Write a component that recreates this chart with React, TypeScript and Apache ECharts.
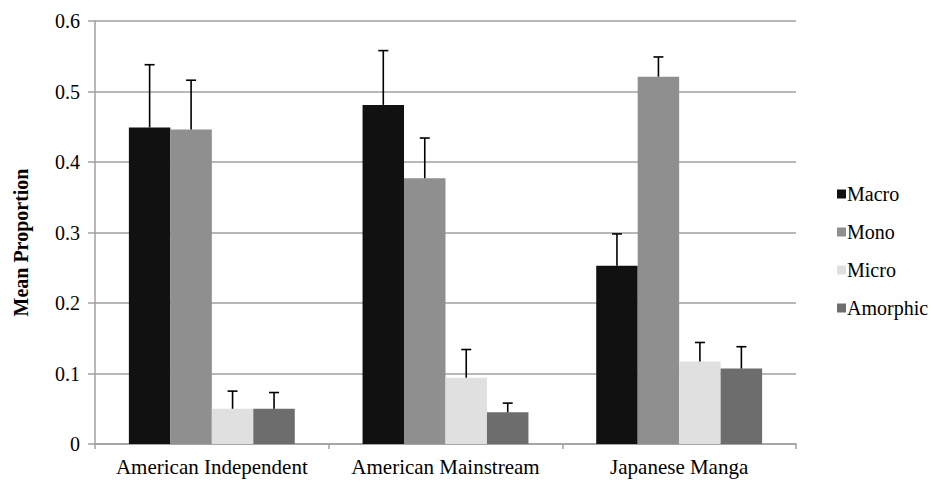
import React, { useEffect, useRef } from "react";
import * as echarts from "echarts";

const categories = ["American Independent", "American Mainstream", "Japanese Manga"];
const seriesNames = ["Macro", "Mono", "Micro", "Amorphic"];
const seriesColors = ["#111111", "#8f8f8f", "#e0e0e0", "#6d6d6d"];
const macroValues = [0.449, 0.481, 0.253];
const monoValues = [0.446, 0.377, 0.521];
const microValues = [0.05, 0.094, 0.117];
const amorphicValues = [0.05, 0.045, 0.107];
const macroErrTop = [0.538, 0.558, 0.298];
const monoErrTop = [0.516, 0.434, 0.549];
const microErrTop = [0.075, 0.134, 0.144];
const amorphicErrTop = [0.073, 0.058, 0.138];
const yTicks = [0, 0.1, 0.2, 0.3, 0.4, 0.5, 0.6];

const allValues = [macroValues, monoValues, microValues, amorphicValues];
const allErr = [macroErrTop, monoErrTop, microErrTop, amorphicErrTop];

const FONT = "Liberation Serif";
const CAT_GAP = 0.29;

export default function App() {
  const ref = useRef<HTMLDivElement>(null);
  useEffect(() => {
    if (!ref.current) return;
    const chart = echarts.init(ref.current, undefined, { renderer: "svg" });
    const barSeries = seriesNames.map((name, i) => ({
      name,
      type: "bar",
      data: allValues[i],
      barGap: "0%",
      barCategoryGap: CAT_GAP * 100 + "%",
      itemStyle: { color: seriesColors[i] },
      z: 2,
    }));
    const errSeries = seriesNames.map((name, i) => ({
      name: "err_" + name,
      type: "custom",
      z: 3,
      data: categories.map((_, c) => [c, allValues[i][c], allErr[i][c]]),
      encode: { x: 0, y: [1, 2] },
      renderItem: (params: any, api: any) => {
        const c = api.value(0);
        const v = api.value(1);
        const t = api.value(2);
        const base = api.coord([c, v]);
        const top = api.coord([c, t]);
        const catW = api.size([1, 0])[0];
        const bw = (catW * (1 - CAT_GAP)) / 4;
        const x = base[0] - 2 * bw + (i + 0.5) * bw;
        const cap = 5;
        const style = { stroke: "#000", lineWidth: 1.6, fill: "none" };
        return {
          type: "group",
          children: [
            { type: "line", shape: { x1: x, y1: base[1], x2: x, y2: top[1] }, style },
            { type: "line", shape: { x1: x - cap, y1: top[1], x2: x + cap, y2: top[1] }, style },
          ],
        };
      },
    }));
    chart.setOption({
      animation: false,
      backgroundColor: "#ffffff",
      textStyle: { fontFamily: FONT },
      grid: { left: 95, right: 138, top: 21, bottom: 39, containLabel: false },
      legend: {
        data: seriesNames,
        orient: "vertical",
        left: 832,
        top: 176,
        itemWidth: 9,
        itemHeight: 9,
        itemGap: 12,
        icon: "rect",
        textStyle: { fontFamily: FONT, fontSize: 20, color: "#000", lineHeight: 20, padding: [6, 0, 0, -4] },
      },
      xAxis: {
        type: "category",
        data: categories,
        axisLine: { lineStyle: { color: "#a0a0a0", width: 1.5 } },
        axisTick: { show: true, length: 5, lineStyle: { color: "#a0a0a0", width: 1.5 } },
        axisLabel: { interval: 0, hideOverlap: false, fontFamily: FONT, fontSize: 21, color: "#000", margin: 12 },
      },
      yAxis: {
        type: "value",
        min: 0,
        max: yTicks[yTicks.length - 1],
        interval: 0.1,
        name: "Mean Proportion",
        nameLocation: "middle",
        nameGap: 64,
        nameTextStyle: { fontFamily: FONT, fontSize: 20, fontWeight: "bold", color: "#000", padding: [0, 0, 0, -20] },
        axisLine: { show: true, lineStyle: { color: "#a0a0a0", width: 1.5 } },
        axisTick: { show: true, length: 7, lineStyle: { color: "#a0a0a0", width: 1.5 } },
        axisLabel: {
          fontFamily: FONT,
          fontSize: 20,
          color: "#000",
          margin: 15,
          formatter: (v: number) => (v === 0 ? "0" : v.toFixed(1)),
        },
        splitLine: { show: true, lineStyle: { color: "#a0a0a0", width: 1.5 } },
      },
      series: [...barSeries, ...errSeries],
    });
    return () => chart.dispose();
  }, []);
  return <div ref={ref} style={{ width: 934, height: 483, position: "absolute", left: 0, top: 0 }} />;
}
